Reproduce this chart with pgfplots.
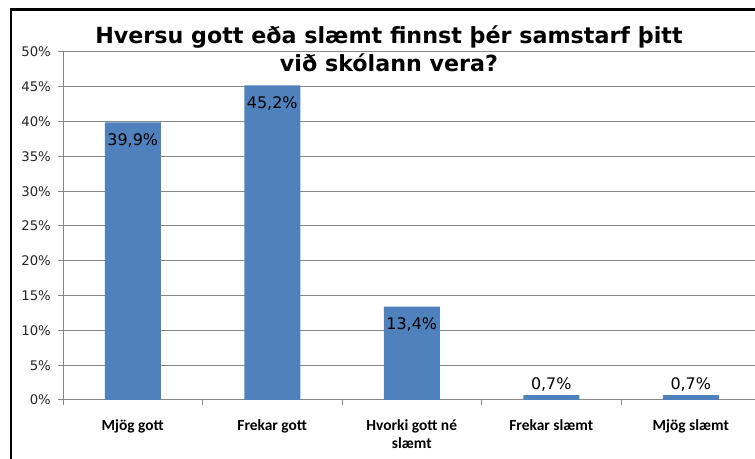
\documentclass[border=0pt]{standalone}
\usepackage{pgfplots}
\pgfplotsset{compat=1.18}
\usepackage{fontspec}
\setmainfont{DejaVu Sans}
\newfontfamily\catfont{Carlito}
\definecolor{barblue}{HTML}{4F81BD}
\definecolor{gridgray}{HTML}{878787}
\begin{document}
\begin{tikzpicture}[x=1bp,y=1bp]
\path[use as bounding box] (0,0) rectangle (755,459);
\begin{axis}[
  at={(63bp,59bp)}, anchor=south west,
  scale only axis, width=692bp, height=348bp,
  xmin=-0.5, xmax=4.4606, ymin=0, ymax=50,
  axis x line*=bottom, axis y line*=left,
  axis line style={gridgray, line width=1bp},
  /pgf/number format/assume math mode=true,
  ytick={0,5,...,50},
  yticklabels={0\%,5\%,10\%,15\%,20\%,25\%,30\%,35\%,40\%,45\%,50\%},
  yticklabel style={font=\fontsize{13.3}{16}\selectfont, text=black!85, anchor=east, inner sep=0pt, xshift=-7bp},
  ymajorgrids, grid style={gridgray, line width=1bp},
  tick align=outside, major tick length=5bp,
  tick style={gridgray, line width=1bp},
  xtick={0,1,2,3,4},
  xticklabels={Mjög gott, Frekar gott, {Hvorki gott né\\slæmt}, Frekar slæmt, Mjög slæmt},
  x tick style={draw=none},
  xticklabel style={font=\catfont\bfseries\fontsize{15.5}{18.5}\selectfont, align=center, anchor=north, inner sep=0pt, yshift=-14bp, text=black},
  extra x ticks={-0.5,0.5,1.5,2.5,3.5},
  extra x tick labels={},
  extra x tick style={grid=none, x tick style={draw=gridgray}, tick align=outside, major tick length=5bp},
  clip=false,
]
\addplot[ybar, fill=barblue, draw=none, bar width=56bp, bar shift=0pt,
  nodes near coords={\pgfmathprintnumber[fixed,fixed zerofill,precision=1,use comma,assume math mode=true]{\pgfplotspointmeta}\%},
  every node near coord/.append style={font=\fontsize{16}{19}\selectfont, text=black, anchor=center, yshift=-18bp}]
  coordinates {(0,39.9) (1,45.2) (2,13.4)};
\addplot[ybar, fill=barblue, draw=none, bar width=56bp, bar shift=0pt,
  nodes near coords={\pgfmathprintnumber[fixed,fixed zerofill,precision=1,use comma,assume math mode=true]{\pgfplotspointmeta}\%},
  every node near coord/.append style={font=\fontsize{16}{19}\selectfont, text=black, anchor=center, yshift=11bp}]
  coordinates {(3,0.7) (4,0.7)};
\end{axis}
\node[anchor=base, font=\bfseries\fontsize{22.3}{22}\selectfont, inner sep=0pt] at (389,415.7) {Hversu gott eða slæmt finnst þér samstarf þitt};
\node[anchor=base, font=\bfseries\fontsize{22.3}{22}\selectfont, inner sep=0pt] at (389,387.3) {við skólann vera?};
\draw[line width=2.5bp] (11,-10) -- (11,449.5) -- (770,449.5);
\end{tikzpicture}
\end{document}
